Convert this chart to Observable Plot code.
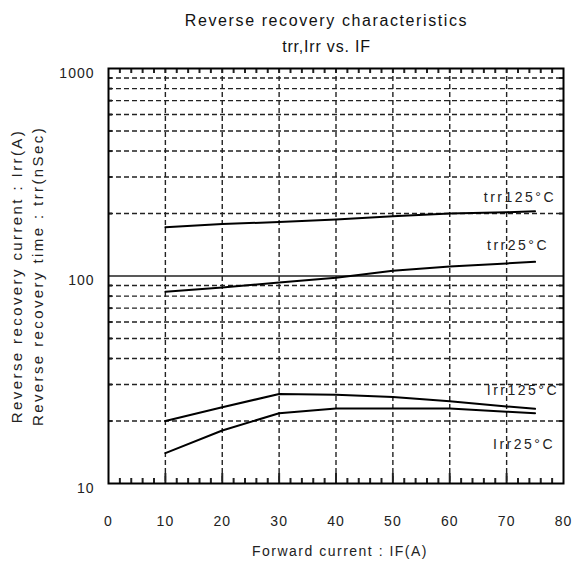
<!DOCTYPE html>
<html><head><meta charset="utf-8">
<script src="https://cdn.jsdelivr.net/npm/d3@7"></script>
<script src="https://cdn.jsdelivr.net/npm/@observablehq/plot@0.6"></script>
<style>
body{margin:0;background:#fff;font-family:"Liberation Sans",Arial,sans-serif;}
#title{height:60px;position:relative;width:573px;color:#111;}
#title div{position:absolute;left:40px;width:573px;text-align:center;font-size:16px;line-height:18px;}
#chart svg{display:block;}
</style></head><body>
<div id="title"><div style="top:12px;letter-spacing:1.6px">Reverse recovery characteristics</div><div style="top:38px;letter-spacing:0.8px">trr,Irr vs. IF</div></div>
<div id="chart"></div>
<script>
const forwardCurrent = [10, 20, 30, 40, 50, 60, 70, 75];
const trr125 = [172, 178, 182, 187, 194, 200, 203, 205];
const trr25 = [84, 88, 93, 98, 106, 111, 115, 117];
const irr125 = [20, 23.3, 27, 26.8, 26.1, 24.9, 23.5, 22.9];
const irr25 = [14, 18, 21.8, 23, 23, 23, 22.2, 21.8];
const seriesNames = ["trr125°C", "trr25°C", "Irr125°C", "Irr25°C"];
const seriesValues = [trr125, trr25, irr125, irr25];
const xTickLabels = [0, 10, 20, 30, 40, 50, 60, 70, 80];
const xGrid = [10, 20, 30, 40, 50, 60, 70];
const xMinor = [2,4,6,8,12,14,16,18,22,24,26,28,32,34,36,38,42,44,46,48,52,54,56,58,62,64,66,68,72,74,76,78];
const yTickLabels = [10, 100, 1000];
const yGrid = [20,30,40,50,60,70,80,90,200,300,400,500,600,700,800,900];
const yLabel1 = "Reverse recovery current : Irr(A)";
const yLabel2 = "Reverse recovery time : trr(nSec)";
const xLabel = "Forward current : IF(A)";

const table = [];
seriesNames.forEach((name, i) => forwardCurrent.forEach((x, j) => table.push({series: name, x, y: seriesValues[i][j]})));
const lastPoints = seriesNames.map((name, i) => ({series: name, x: forwardCurrent[forwardCurrent.length-1], y: seriesValues[i][forwardCurrent.length-1]}));
const labelOffsets = {"trr125°C": [21, -14], "trr25°C": [14, -16], "Irr125°C": [24, -18], "Irr25°C": [20, 31]};

const W = 573, H = 507, mL = 108, mR = 10, mT = 8, mB = 84;
const plotH = H - mT - mB, plotW = W - mL - mR;
const dash = {stroke: "#222", strokeWidth: 1.4, strokeDasharray: "5,3"};

const chart = Plot.plot({
  width: W, height: H, marginLeft: mL, marginRight: mR, marginTop: mT, marginBottom: mB,
  style: {fontFamily: "'Liberation Sans', Arial, sans-serif", fontSize: "14px", color: "#222", background: "#fff", letterSpacing: "1px"},
  x: {domain: [0, 80]},
  y: {type: "log", domain: [10, 1000]},
  marks: [
    Plot.ruleY(yGrid, dash),
    Plot.ruleX(xGrid, dash),
    Plot.ruleY([100], {stroke: "#222", strokeWidth: 1.6}),
    Plot.tickX(xMinor, {x: d => d, insetTop: plotH - 5, strokeWidth: 2}),
    Plot.tickX(xGrid, {x: d => d, insetTop: plotH - 10, strokeWidth: 2}),
    Plot.tickX(xMinor.concat(xGrid), {x: d => d, insetBottom: plotH - 5, strokeWidth: 2}),
    Plot.tickY(yGrid, {y: d => d, insetRight: plotW - 4, strokeWidth: 2}),
    Plot.tickY(yGrid, {y: d => d, insetLeft: plotW - 4, strokeWidth: 2}),
    Plot.line(table, {x: "x", y: "y", z: "series", stroke: "#000", strokeWidth: 2}),
    Plot.frame({stroke: "#000", strokeWidth: 2}),
    Plot.axisX(xTickLabels, {tickSize: 0, tickPadding: 33, label: null, tickFormat: d => String(d)}),
    Plot.axisY(yTickLabels, {tickSize: 0, tickPadding: 14, label: null, dy: 5, tickFormat: d => String(d)}),
    ...lastPoints.map(p => Plot.text([p], {x: "x", y: "y", text: "series", textAnchor: "end", dx: labelOffsets[p.series][0], dy: labelOffsets[p.series][1], fill: "#222"})),
    Plot.text([xLabel], {text: d => d, frameAnchor: "bottom", textAnchor: "middle", dx: 4, dy: 72, fill: "#222"}),
    Plot.text([yLabel1], {text: d => d, frameAnchor: "left", textAnchor: "middle", rotate: -90, dx: -91, fontSize: 15, fill: "#222"}),
    Plot.text([yLabel2], {text: d => d, frameAnchor: "left", textAnchor: "middle", rotate: -90, dx: -70, fontSize: 15, fill: "#222"})
  ]
});
const sel = d3.select(chart).selectAll("text");
sel.filter(function() { return seriesNames.includes(this.textContent); }).style("letter-spacing", "2.5px");
sel.filter(function() { return this.textContent === xLabel; }).style("letter-spacing", "1.5px");
sel.filter(function() { return this.textContent === yLabel1 || this.textContent === yLabel2; }).style("letter-spacing", "2.4px");
document.getElementById("chart").appendChild(chart);
</script>
</body></html>
